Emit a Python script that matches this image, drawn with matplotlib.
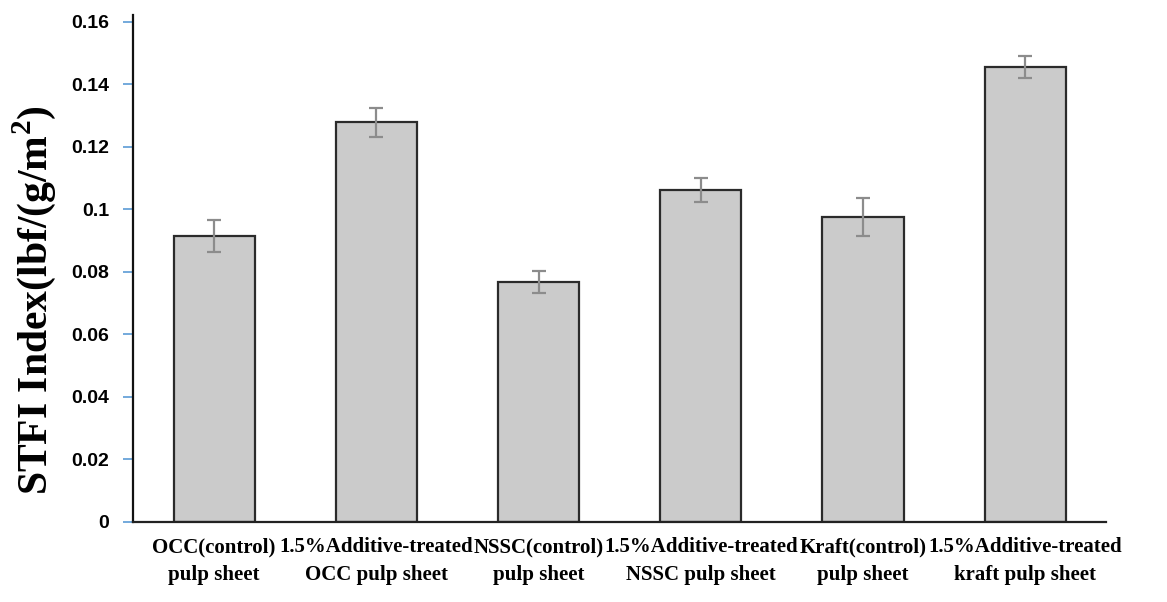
import matplotlib.pyplot as plt
import numpy as np

plt.rcParams["mathtext.fontset"] = "custom"
plt.rcParams["mathtext.bf"] = "Liberation Serif:bold"
plt.rcParams["mathtext.rm"] = "Liberation Serif:bold"

categories = ["OCC(control)\npulp sheet", "1.5%Additive-treated\nOCC pulp sheet",
              "NSSC(control)\npulp sheet", "1.5%Additive-treated\nNSSC pulp sheet",
              "Kraft(control)\npulp sheet", "1.5%Additive-treated\nkraft pulp sheet"]
stfi = [0.0915, 0.1279, 0.0769, 0.1063, 0.0976, 0.1457]
stfi_err = [0.0051, 0.0046, 0.0035, 0.0038, 0.0062, 0.0035]
yticks = [0, 0.02, 0.04, 0.06, 0.08, 0.1, 0.12, 0.14, 0.16]
ytick_labels = ["0", "0.02", "0.04", "0.06", "0.08", "0.1", "0.12", "0.14", "0.16"]

fig = plt.figure(figsize=(11.67, 6.02), dpi=100)
ax = fig.add_axes([0.114, 0.133, 0.834, 0.842])

x = np.arange(len(categories))
ax.bar(x, stfi, width=0.5, color="#cbcbcb", edgecolor="#2b2b2b", linewidth=1.6, zorder=2)
ax.errorbar(x, stfi, yerr=stfi_err, fmt="none", ecolor="#8c8c8c", elinewidth=1.6,
            capsize=5, capthick=1.6, zorder=3)

ax.set_xlim(-0.5, len(categories) - 0.5)
ax.set_ylim(0, 0.1622)
ax.set_yticks(yticks)
ax.set_yticklabels(ytick_labels, fontfamily="Liberation Sans", fontweight="bold", fontsize=14)
ax.tick_params(axis="y", length=7, width=1.2, color="#5b9bd5", pad=10)
ax.set_xticks(x)
ax.set_xticklabels(categories, fontfamily="Liberation Serif", fontweight="bold",
                   fontsize=15, linespacing=1.5)
ax.tick_params(axis="x", length=0, pad=11)

for side in ["top", "right"]:
    ax.spines[side].set_visible(False)
ax.spines["left"].set_linewidth(1.6)
ax.spines["bottom"].set_linewidth(1.6)
ax.spines["left"].set_color("#111111")
ax.spines["bottom"].set_color("#222222")

ax.set_ylabel("STFI Index(lbf/(g/m$^\\mathbf{2}$)", fontfamily="Liberation Serif",
              fontweight="bold", fontsize=30)
ax.yaxis.set_label_coords(-0.077, 0.438)

plt.savefig("out.png", dpi=100)
